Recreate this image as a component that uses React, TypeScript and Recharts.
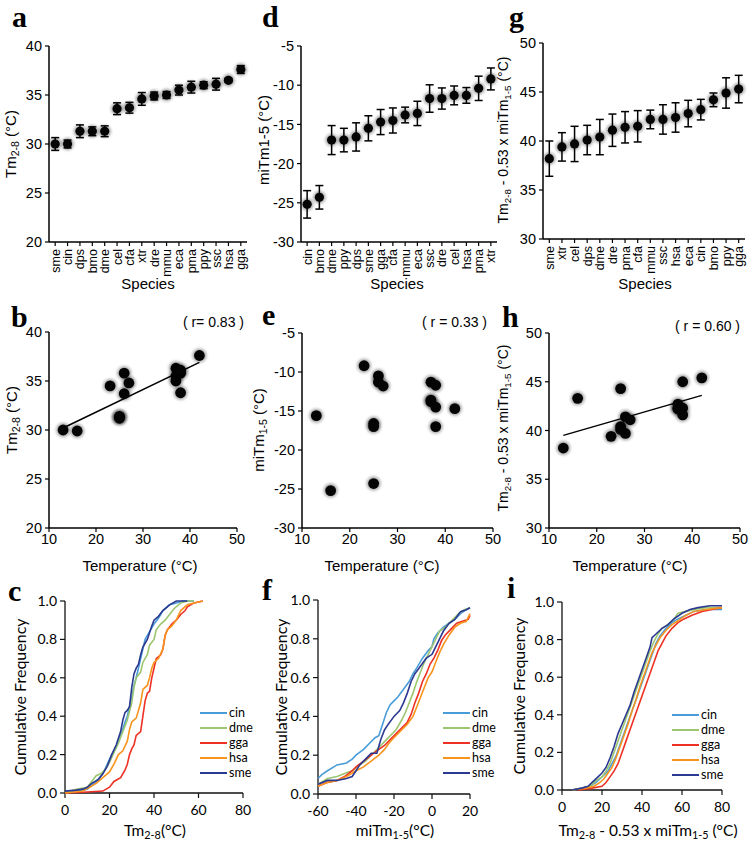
import React from "react";
import {
  ComposedChart,
  Line,
  ErrorBar,
  XAxis,
  YAxis,
  ScatterChart,
  Scatter,
  ReferenceLine,
} from "recharts";

const SANS = "'Liberation Sans', Arial, Helvetica, sans-serif";
const LATO = "Lato, 'Open Sans', sans-serif";
const SERIF = "'Liberation Serif', 'Times New Roman', serif";

// panel a: Tm2-8 per species
const tmSpecies = ["sme", "cin", "dps", "bmo", "dme", "cel", "cfa", "xtr", "dre", "mmu", "eca", "pma", "ppy", "ssc", "hsa", "gga"];
const tmMean = [30.0, 30.0, 31.3, 31.3, 31.3, 33.6, 33.7, 34.6, 34.9, 35.0, 35.5, 35.8, 36.0, 36.1, 36.5, 37.6];
const tmErr = [0.65, 0.4, 0.65, 0.45, 0.55, 0.6, 0.55, 0.65, 0.4, 0.35, 0.5, 0.6, 0.35, 0.6, 0.2, 0.4];

// panel d: miTm1-5 per species
const miSpecies = ["cin", "bmo", "dme", "ppy", "dps", "sme", "gga", "cfa", "mmu", "eca", "ssc", "dre", "cel", "hsa", "pma", "xtr"];
const miMean = [-25.2, -24.3, -17.0, -17.0, -16.6, -15.5, -14.7, -14.5, -13.8, -13.6, -11.7, -11.7, -11.3, -11.3, -10.4, -9.2];
const miErr = [1.75, 1.5, 1.85, 1.5, 1.8, 1.6, 1.6, 1.6, 1.0, 1.55, 1.75, 1.35, 1.2, 1.0, 1.55, 1.4];

// panel g: Tm2-8 - 0.53 x miTm1-5 per species
const combSpecies = ["sme", "xtr", "cel", "dps", "dme", "dre", "pma", "cfa", "mmu", "ssc", "hsa", "eca", "cin", "bmo", "ppy", "gga"];
const combMean = [38.2, 39.4, 39.7, 40.1, 40.4, 41.1, 41.4, 41.5, 42.2, 42.2, 42.4, 42.8, 43.2, 44.2, 44.9, 45.3];
const combErr = [1.8, 1.45, 1.8, 1.5, 1.8, 1.65, 1.6, 1.6, 0.95, 1.5, 1.5, 1.35, 1.05, 0.7, 1.55, 1.4];

// panels b, e, h: values against growth temperature
const tempC = [13, 16, 23, 25, 25, 25, 26, 26, 27, 37, 37, 37, 38, 38, 38, 42];
const tmAtTemp = [30.0, 29.9, 34.5, 31.3, 31.2, 31.4, 35.8, 33.7, 34.8, 36.3, 35.0, 35.5, 35.8, 33.8, 36.1, 37.6];
const miAtTemp = [-15.6, -25.2, -9.2, -24.3, -16.6, -17.0, -10.5, -11.3, -11.8, -11.3, -13.8, -13.6, -11.7, -14.5, -17.0, -14.7];
const combAtTemp = [38.2, 43.3, 39.4, 44.3, 40.1, 40.4, 41.4, 39.7, 41.1, 42.3, 42.2, 42.7, 42.3, 41.6, 45.0, 45.4];
const fitTemp = [13, 42];
const fitTm = [30.2, 36.9];
const fitComb = [39.5, 43.6];

// panels c, f, i: cumulative frequency curves [x, y]
const cdfNames = ["cin", "dme", "gga", "hsa", "sme"];
const cdfColors = ["#4a9cd8", "#9cc66f", "#ee3124", "#f7941d", "#2b3990"];

const cdfTmCin: [number, number][] = [[0, 0], [5, 0.01], [10, 0.02], [12, 0.04], [14, 0.06], [17, 0.1], [19, 0.15], [21, 0.2], [23, 0.24], [25, 0.3], [27, 0.37], [28, 0.4], [30, 0.5], [31, 0.56], [32, 0.6], [33, 0.65], [34, 0.7], [35, 0.75], [36, 0.8], [38, 0.84], [40, 0.88], [42, 0.91], [44, 0.95], [47, 0.98], [50, 0.99], [53, 1.0], [58, 1.0]];
const cdfTmDme: [number, number][] = [[0, 0], [5, 0.02], [10, 0.03], [12, 0.06], [14, 0.09], [16, 0.1], [18, 0.12], [20, 0.16], [22, 0.21], [24, 0.26], [26, 0.32], [28, 0.38], [30, 0.47], [31, 0.55], [32, 0.6], [34, 0.63], [35, 0.68], [37, 0.72], [38, 0.77], [40, 0.8], [41, 0.85], [43, 0.88], [45, 0.9], [47, 0.93], [49, 0.96], [52, 0.99], [55, 1.0], [58, 1.0]];
const cdfTmGga: [number, number][] = [[0, 0], [10, 0.005], [17, 0.01], [20, 0.03], [22, 0.06], [25, 0.08], [27, 0.12], [28, 0.15], [29, 0.2], [30, 0.23], [31, 0.25], [32, 0.3], [34, 0.32], [35, 0.4], [36, 0.48], [37, 0.52], [38, 0.53], [39, 0.6], [40, 0.65], [41, 0.7], [43, 0.72], [44, 0.75], [45, 0.82], [46, 0.85], [48, 0.88], [50, 0.9], [52, 0.93], [54, 0.95], [55, 0.97], [58, 0.99], [62, 1.0]];
const cdfTmHsa: [number, number][] = [[0, 0], [8, 0.01], [11, 0.03], [14, 0.05], [17, 0.08], [20, 0.11], [22, 0.15], [24, 0.2], [26, 0.22], [28, 0.27], [29, 0.33], [30, 0.37], [32, 0.39], [33, 0.43], [34, 0.47], [35, 0.54], [37, 0.56], [38, 0.6], [39, 0.65], [40, 0.68], [42, 0.7], [44, 0.75], [45, 0.82], [46, 0.85], [48, 0.87], [50, 0.9], [52, 0.95], [55, 0.98], [58, 0.99], [62, 1.0]];
const cdfTmSme: [number, number][] = [[0, 0.01], [5, 0.015], [8, 0.02], [10, 0.03], [12, 0.05], [15, 0.07], [17, 0.1], [19, 0.14], [21, 0.2], [23, 0.25], [25, 0.32], [26, 0.38], [27, 0.42], [28, 0.43], [29, 0.45], [30, 0.55], [31, 0.62], [32, 0.65], [33, 0.67], [34, 0.72], [35, 0.76], [36, 0.78], [37, 0.8], [39, 0.87], [40, 0.9], [42, 0.92], [44, 0.95], [47, 0.98], [50, 1.0], [55, 1.0]];

const cdfMiCin: [number, number][] = [[-60, 0.08], [-58, 0.1], [-55, 0.12], [-50, 0.15], [-45, 0.16], [-42, 0.18], [-40, 0.2], [-36, 0.23], [-33, 0.26], [-30, 0.29], [-28, 0.3], [-26, 0.36], [-24, 0.42], [-22, 0.46], [-20, 0.48], [-18, 0.5], [-15, 0.54], [-12, 0.58], [-10, 0.62], [-8, 0.65], [-5, 0.7], [-2, 0.74], [0, 0.76], [1, 0.8], [3, 0.83], [6, 0.86], [9, 0.88], [12, 0.9], [15, 0.93], [18, 0.95], [20, 0.96]];
const cdfMiDme: [number, number][] = [[-60, 0.05], [-55, 0.08], [-50, 0.09], [-45, 0.11], [-42, 0.12], [-38, 0.15], [-35, 0.17], [-32, 0.2], [-28, 0.24], [-25, 0.27], [-22, 0.3], [-19, 0.33], [-16, 0.38], [-14, 0.42], [-12, 0.47], [-10, 0.52], [-8, 0.58], [-6, 0.63], [-4, 0.68], [-2, 0.72], [0, 0.76], [2, 0.8], [4, 0.84], [7, 0.86], [10, 0.89], [14, 0.93], [17, 0.95], [20, 0.96]];
const cdfMiGga: [number, number][] = [[-60, 0.04], [-55, 0.06], [-50, 0.07], [-46, 0.09], [-42, 0.12], [-40, 0.14], [-36, 0.17], [-32, 0.2], [-28, 0.23], [-25, 0.25], [-22, 0.28], [-19, 0.31], [-16, 0.34], [-13, 0.37], [-11, 0.41], [-9, 0.47], [-7, 0.52], [-5, 0.58], [-3, 0.62], [-1, 0.67], [1, 0.7], [3, 0.74], [5, 0.79], [7, 0.82], [10, 0.85], [13, 0.88], [16, 0.89], [19, 0.9], [20, 0.92]];
const cdfMiHsa: [number, number][] = [[-60, 0.04], [-55, 0.06], [-50, 0.07], [-45, 0.09], [-40, 0.12], [-36, 0.14], [-32, 0.17], [-28, 0.2], [-25, 0.23], [-22, 0.27], [-19, 0.3], [-16, 0.33], [-13, 0.36], [-10, 0.4], [-8, 0.45], [-6, 0.5], [-4, 0.55], [-2, 0.6], [0, 0.63], [2, 0.68], [4, 0.73], [6, 0.77], [9, 0.82], [12, 0.86], [15, 0.88], [18, 0.89], [20, 0.93]];
const cdfMiSme: [number, number][] = [[-60, 0.05], [-55, 0.07], [-50, 0.07], [-45, 0.08], [-42, 0.09], [-40, 0.12], [-38, 0.15], [-35, 0.18], [-32, 0.21], [-29, 0.21], [-27, 0.28], [-25, 0.33], [-23, 0.36], [-20, 0.4], [-17, 0.43], [-15, 0.47], [-13, 0.52], [-11, 0.58], [-9, 0.62], [-6, 0.66], [-3, 0.7], [0, 0.72], [2, 0.76], [4, 0.8], [6, 0.84], [9, 0.88], [12, 0.9], [15, 0.94], [18, 0.95], [20, 0.96]];

const cdfCombCin: [number, number][] = [[5, 0], [10, 0.01], [14, 0.02], [17, 0.04], [19, 0.06], [21, 0.08], [23, 0.1], [25, 0.14], [27, 0.18], [29, 0.24], [31, 0.3], [33, 0.36], [35, 0.42], [37, 0.48], [39, 0.54], [41, 0.6], [43, 0.66], [45, 0.72], [47, 0.78], [49, 0.82], [52, 0.86], [55, 0.89], [58, 0.91], [62, 0.93], [66, 0.95], [72, 0.96], [80, 0.96]];
const cdfCombDme: [number, number][] = [[5, 0], [10, 0.01], [14, 0.02], [17, 0.05], [20, 0.07], [22, 0.1], [24, 0.14], [26, 0.2], [28, 0.26], [30, 0.32], [32, 0.38], [34, 0.44], [36, 0.5], [38, 0.56], [40, 0.62], [42, 0.68], [44, 0.74], [46, 0.79], [48, 0.83], [50, 0.86], [53, 0.88], [56, 0.91], [58, 0.94], [62, 0.95], [66, 0.96], [72, 0.97], [80, 0.97]];
const cdfCombGga: [number, number][] = [[8, 0], [15, 0.01], [20, 0.02], [22, 0.04], [24, 0.07], [26, 0.1], [28, 0.14], [30, 0.2], [32, 0.26], [34, 0.32], [36, 0.38], [38, 0.44], [40, 0.5], [42, 0.56], [44, 0.62], [46, 0.68], [48, 0.74], [50, 0.78], [52, 0.82], [55, 0.86], [58, 0.89], [61, 0.91], [65, 0.93], [70, 0.95], [75, 0.96], [80, 0.97]];
const cdfCombHsa: [number, number][] = [[5, 0], [12, 0.01], [16, 0.02], [19, 0.04], [21, 0.06], [23, 0.09], [25, 0.12], [27, 0.17], [29, 0.23], [31, 0.29], [33, 0.35], [35, 0.42], [37, 0.48], [39, 0.55], [41, 0.61], [43, 0.67], [45, 0.73], [47, 0.77], [49, 0.81], [52, 0.85], [55, 0.88], [58, 0.9], [62, 0.93], [66, 0.95], [72, 0.96], [80, 0.97]];
const cdfCombSme: [number, number][] = [[5, 0], [10, 0.01], [13, 0.02], [16, 0.05], [18, 0.07], [20, 0.09], [22, 0.12], [24, 0.17], [26, 0.23], [28, 0.3], [30, 0.35], [32, 0.4], [34, 0.45], [36, 0.52], [38, 0.58], [40, 0.64], [42, 0.7], [44, 0.76], [45, 0.81], [47, 0.83], [50, 0.86], [53, 0.88], [56, 0.91], [60, 0.94], [64, 0.96], [68, 0.97], [74, 0.98], [80, 0.98]];

const cdfTicks = [0, 0.1, 0.2, 0.3, 0.4, 0.5, 0.6, 0.7, 0.8, 0.9, 1.0];

type Rect = { x0: number; x1: number; y0: number; y1: number };
const YW = 60;
const XH = 50;
const PAD = 10;

function frame(p: Rect) {
  return {
    style: { position: "absolute" as const, left: p.x0 - YW, top: p.y0 - PAD },
    width: p.x1 - p.x0 + YW + PAD,
    height: p.y1 - p.y0 + PAD + XH,
    margin: { top: PAD, right: PAD, bottom: 0, left: 0 },
  };
}

const axisLine = { stroke: "#000", strokeWidth: 1.5 };
const tickLine = { stroke: "#000", strokeWidth: 1.2 };

function SoftDot({ cx, cy, r }: { cx?: number; cy?: number; r: number }) {
  if (cx == null || cy == null) return <g />;
  return (
    <g>
      <circle cx={cx} cy={cy} r={r + 1.6} fill="#000" opacity={0.35} filter="url(#soft)" />
      <circle cx={cx} cy={cy} r={r} fill="#050505" />
    </g>
  );
}

function CatTick(props: any) {
  const { x, y, payload, names } = props;
  return (
    <g transform={`translate(${x},${y})`}>
      <text transform="rotate(-90)" x={0} y={0} dy="0.36em" textAnchor="end" fontSize={12.5} fontFamily={SANS} fill="#000">
        {names[payload.value]}
      </text>
    </g>
  );
}

function SpeciesPanel({ plot, cats, means, errs, domain, ticks }: { plot: Rect; cats: string[]; means: number[]; errs: number[]; domain: [number, number]; ticks: number[] }) {
  const f = frame(plot);
  const data = cats.map((c, i) => ({ idx: i, name: c, v: means[i], e: errs[i] }));
  return (
    <div style={f.style}>
      <ComposedChart width={f.width} height={f.height} margin={f.margin} data={data}>
        <XAxis
          dataKey="idx"
          type="number"
          domain={[-0.5, cats.length - 0.5]}
          ticks={data.map((d) => d.idx)}
          interval={0}
          height={XH}
          tickSize={4}
          tickMargin={3}
          axisLine={axisLine}
          tickLine={tickLine}
          tick={<CatTick names={cats} />}
        />
        <YAxis
          type="number"
          domain={domain}
          ticks={ticks}
          width={YW}
          tickSize={4}
          tickMargin={3}
          axisLine={axisLine}
          tickLine={tickLine}
          tick={{ fill: "#000", fontSize: 14.5, fontFamily: SANS }}
        />
        <Line
          dataKey="v"
          stroke="none"
          isAnimationActive={false}
          activeDot={false}
          dot={(p: any) => <SoftDot key={p.index} cx={p.cx} cy={p.cy} r={4.6} />}
        >
          <ErrorBar dataKey="e" width={4} stroke="#000" strokeWidth={1.5} direction="y" />
        </Line>
      </ComposedChart>
    </div>
  );
}

function TempPanel({ plot, values, domain, ticks, fit }: { plot: Rect; values: number[]; domain: [number, number]; ticks: number[]; fit?: number[] }) {
  const f = frame(plot);
  const data = tempC.map((t, i) => ({ t, v: values[i] }));
  return (
    <div style={f.style}>
      <ScatterChart width={f.width} height={f.height} margin={f.margin}>
        <XAxis
          dataKey="t"
          type="number"
          domain={[10, 50]}
          ticks={[10, 20, 30, 40, 50]}
          height={XH}
          tickSize={4}
          tickMargin={2}
          axisLine={axisLine}
          tickLine={tickLine}
          tick={{ fill: "#000", fontSize: 14.5, fontFamily: SANS }}
        />
        <YAxis
          dataKey="v"
          type="number"
          domain={domain}
          ticks={ticks}
          width={YW}
          tickSize={4}
          tickMargin={3}
          axisLine={axisLine}
          tickLine={tickLine}
          tick={{ fill: "#000", fontSize: 14.5, fontFamily: SANS }}
        />
        {fit && (
          <ReferenceLine
            segment={[
              { x: fitTemp[0], y: fit[0] },
              { x: fitTemp[1], y: fit[1] },
            ]}
            stroke="#000"
            strokeWidth={1.5}
          />
        )}
        <Scatter
          data={data}
          isAnimationActive={false}
          shape={(p: any) => <SoftDot cx={p.cx} cy={p.cy} r={5.4} />}
        />
      </ScatterChart>
    </div>
  );
}

function CdfPanel({ plot, series, domain, ticks }: { plot: Rect; series: [number, number][][]; domain: [number, number]; ticks: number[] }) {
  const f = frame(plot);
  return (
    <div style={f.style}>
      <ScatterChart width={f.width} height={f.height} margin={f.margin}>
        <XAxis
          dataKey="x"
          type="number"
          domain={domain}
          ticks={ticks}
          height={XH}
          tickSize={5}
          tickMargin={7}
          axisLine={{ stroke: "#111", strokeWidth: 1.3 }}
          tickLine={{ stroke: "#111", strokeWidth: 1.2 }}
          tick={{ fill: "#000", fontSize: 14, fontFamily: LATO }}
        />
        <YAxis
          dataKey="y"
          type="number"
          domain={[0, 1]}
          ticks={cdfTicks}
          width={YW}
          tickSize={5}
          tickMargin={3}
          tickFormatter={(v: number) => v.toFixed(1)}
          axisLine={{ stroke: "#111", strokeWidth: 1.3 }}
          tickLine={{ stroke: "#111", strokeWidth: 1.2 }}
          tick={{ fill: "#000", fontSize: 14, fontFamily: LATO }}
        />
        {series.map((s, i) => (
          <Scatter
            key={cdfNames[i]}
            name={cdfNames[i]}
            data={s.map(([x, y]) => ({ x, y }))}
            line={{ stroke: cdfColors[i], strokeWidth: 1.6 }}
            shape={() => <g />}
            isAnimationActive={false}
          />
        ))}
      </ScatterChart>
    </div>
  );
}

function Legend({ x, y }: { x: number; y: number }) {
  const step = 15;
  return (
    <g>
      {cdfNames.map((n, i) => (
        <g key={n}>
          <line x1={x} x2={x + 27} y1={y + i * step} y2={y + i * step} stroke={cdfColors[i]} strokeWidth={2} />
          <text x={x + 29} y={y + i * step} dy="0.35em" fontSize={12.5} fontFamily={LATO} fill="#000">
            {n}
          </text>
        </g>
      ))}
    </g>
  );
}

// text made of plain and subscript pieces
function Rich({ parts }: { parts: [string, boolean][] }) {
  let prev = false;
  return (
    <>
      {parts.map(([t, sub], i) => {
        const dy = (sub ? 3 : 0) - (prev ? 3 : 0);
        prev = sub;
        return (
          <tspan key={i} dy={dy} fontSize={sub ? "0.7em" : undefined}>
            {t}
          </tspan>
        );
      })}
    </>
  );
}

function VLabel({ x, y, children, size = 15, family = SANS }: { x: number; y: number; children: React.ReactNode; size?: number; family?: string }) {
  return (
    <text transform={`translate(${x},${y}) rotate(-90)`} textAnchor="middle" dy="0.35em" fontSize={size} fontFamily={family} fill="#000">
      {children}
    </text>
  );
}

const tmLabel: [string, boolean][] = [["Tm", false], ["2-8", true], [" (°C)", false]];
const miLabel: [string, boolean][] = [["miTm", false], ["1-5", true], [" (°C)", false]];
const combLabel: [string, boolean][] = [["Tm", false], ["2-8", true], [" - 0.53 x miTm", false], ["1-5", true], [" (°C)", false]];

const plotA: Rect = { x0: 49, x1: 247, y0: 46, y1: 242 };
const plotD: Rect = { x0: 301, x1: 497, y0: 46, y1: 242 };
const plotG: Rect = { x0: 543, x1: 745, y0: 43, y1: 239 };
const plotB: Rect = { x0: 49, x1: 237, y0: 332, y1: 528 };
const plotE: Rect = { x0: 302, x1: 493, y0: 333, y1: 528 };
const plotH: Rect = { x0: 549, x1: 740, y0: 333, y1: 528 };
const plotC: Rect = { x0: 65, x1: 243, y0: 601, y1: 793 };
const plotF: Rect = { x0: 318, x1: 470, y0: 600, y1: 794 };
const plotI: Rect = { x0: 562, x1: 722, y0: 602, y1: 790 };

export default function App() {
  const letter = { fontSize: 30, fontWeight: 700, fontFamily: SERIF, fill: "#000" } as const;
  const title = { fontSize: 15, fontFamily: SANS, fill: "#000", textAnchor: "middle" as const };
  const titleL = { fontSize: 15.5, fontFamily: LATO, fill: "#000", textAnchor: "middle" as const };
  return (
    <div style={{ position: "absolute", left: 0, top: 0, width: 749, height: 845, background: "#fff", overflow: "hidden" }}>
      <SpeciesPanel plot={plotA} cats={tmSpecies} means={tmMean} errs={tmErr} domain={[20, 40]} ticks={[20, 25, 30, 35, 40]} />
      <SpeciesPanel plot={plotD} cats={miSpecies} means={miMean} errs={miErr} domain={[-30, -5]} ticks={[-30, -25, -20, -15, -10, -5]} />
      <SpeciesPanel plot={plotG} cats={combSpecies} means={combMean} errs={combErr} domain={[30, 50]} ticks={[30, 35, 40, 45, 50]} />

      <TempPanel plot={plotB} values={tmAtTemp} domain={[20, 40]} ticks={[20, 25, 30, 35, 40]} fit={fitTm} />
      <TempPanel plot={plotE} values={miAtTemp} domain={[-30, -5]} ticks={[-30, -25, -20, -15, -10, -5]} />
      <TempPanel plot={plotH} values={combAtTemp} domain={[30, 50]} ticks={[30, 35, 40, 45, 50]} fit={fitComb} />

      <CdfPanel plot={plotC} series={[cdfTmCin, cdfTmDme, cdfTmGga, cdfTmHsa, cdfTmSme]} domain={[0, 80]} ticks={[0, 20, 40, 60, 80]} />
      <CdfPanel plot={plotF} series={[cdfMiCin, cdfMiDme, cdfMiGga, cdfMiHsa, cdfMiSme]} domain={[-60, 20]} ticks={[-60, -40, -20, 0, 20]} />
      <CdfPanel plot={plotI} series={[cdfCombCin, cdfCombDme, cdfCombGga, cdfCombHsa, cdfCombSme]} domain={[0, 80]} ticks={[0, 20, 40, 60, 80]} />

      <svg width={749} height={845} style={{ position: "absolute", left: 0, top: 0, pointerEvents: "none" }}>
        <defs>
          <filter id="soft" x="-60%" y="-60%" width="220%" height="220%">
            <feGaussianBlur stdDeviation="1.6" />
          </filter>
        </defs>

        <text x={12} y={27} {...letter}>a</text>
        <text x={262} y={27} {...letter}>d</text>
        <text x={509} y={27} {...letter}>g</text>
        <text x={11} y={327} {...letter}>b</text>
        <text x={262} y={325} {...letter}>e</text>
        <text x={502} y={327} {...letter}>h</text>
        <text x={8} y={601} {...letter}>c</text>
        <text x={262} y={600} {...letter}>f</text>
        <text x={507} y={598} {...letter}>i</text>

        <VLabel x={16} y={144}><Rich parts={tmLabel} /></VLabel>
        <VLabel x={264} y={140}>miTm1-5 (°C)</VLabel>
        <VLabel x={508} y={140} size={14}><Rich parts={combLabel} /></VLabel>
        <VLabel x={17} y={420}><Rich parts={tmLabel} /></VLabel>
        <VLabel x={264} y={430}><Rich parts={miLabel} /></VLabel>
        <VLabel x={508} y={428} size={14}><Rich parts={combLabel} /></VLabel>
        <VLabel x={20} y={697} family={LATO} size={16}>Cumulative Frequency</VLabel>
        <VLabel x={281} y={697} family={LATO} size={16}>Cumulative Frequency</VLabel>
        <VLabel x={519} y={696} family={LATO} size={16}>Cumulative Frequency</VLabel>

        <text x={148} y={289} {...title}>Species</text>
        <text x={397} y={289} {...title}>Species</text>
        <text x={645} y={289} {...title}>Species</text>
        <text x={140} y={571} {...title}>Temperature (°C)</text>
        <text x={382} y={571} {...title}>Temperature (°C)</text>
        <text x={630} y={571} {...title}>Temperature (°C)</text>
        <text x={155} y={836} {...titleL}><Rich parts={[["Tm", false], ["2-8", true], ["(°C)", false]]} /></text>
        <text x={395} y={836} {...titleL}><Rich parts={[["miTm", false], ["1-5", true], ["(°C)", false]]} /></text>
        <text x={648} y={836} {...titleL}><Rich parts={combLabel} /></text>

        <text x={244} y={327} textAnchor="end" fontSize={14} fontFamily={SANS}>( r= 0.83 )</text>
        <text x={487} y={327} textAnchor="end" fontSize={14} fontFamily={SANS}>( r = 0.33 )</text>
        <text x={740} y={331} textAnchor="end" fontSize={14} fontFamily={SANS}>( r = 0.60 )</text>

        <Legend x={200} y={713} />
        <Legend x={443} y={713} />
        <Legend x={672} y={715} />
      </svg>
    </div>
  );
}
